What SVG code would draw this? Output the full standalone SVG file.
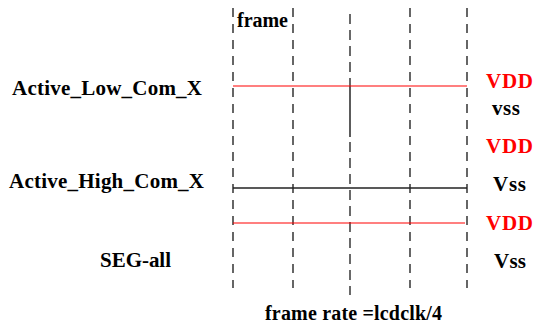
<svg xmlns="http://www.w3.org/2000/svg" width="536" height="335" viewBox="0 0 536 335">
<style>
.t{font-family:"Liberation Serif","Times New Roman",serif;font-weight:bold;fill:#000;font-size:21px}
.r{fill:#ff0000}
.grid{stroke:#000;stroke-width:1.2;stroke-dasharray:9 7;fill:none}
.mid{stroke:#444;stroke-width:1.6;stroke-dasharray:10 6;fill:none}
.red{stroke:#ff0000;stroke-width:1.2}
.blk{stroke:#222;stroke-width:1.3}
</style>
<rect width="536" height="335" fill="#fff"/>
<g id="connectors">
<line class="grid" x1="233" y1="8" x2="233" y2="288"/>
<line class="grid" x1="293" y1="8" x2="293" y2="288"/>
<line class="mid" x1="350" y1="14" x2="350" y2="86"/>
<line x1="350" y1="86" x2="350" y2="137" stroke="#333" stroke-width="1.6"/>
<line class="mid" x1="350" y1="142" x2="350" y2="295"/>
<line class="grid" x1="410" y1="8" x2="410" y2="288"/>
<line class="grid" x1="467" y1="8" x2="467" y2="288"/>
<line class="red" x1="233" y1="86" x2="467" y2="86"/>
<line class="blk" x1="233" y1="188" x2="467" y2="188"/>
<line class="red" x1="233" y1="223" x2="465" y2="223"/>
</g>
<g id="labels">
<text class="t" x="237" y="27" style="font-size:20px" textLength="51">frame</text>
<text class="t" x="12" y="95" textLength="190">Active_Low_Com_X</text>
<text class="t" x="9" y="188" textLength="195">Active_High_Com_X</text>
<text class="t" x="100" y="267" textLength="71">SEG-all</text>
<text class="t r" x="486" y="88" textLength="47">VDD</text>
<text class="t" x="492" y="115" textLength="28">vss</text>
<text class="t r" x="486" y="153" textLength="47">VDD</text>
<text class="t" x="493" y="191" textLength="33">Vss</text>
<text class="t r" x="486" y="230" textLength="47">VDD</text>
<text class="t" x="494" y="268" textLength="32">Vss</text>
<text class="t" x="265" y="320" style="font-size:20px" textLength="177">frame rate =lcdclk/4</text>
</g>
</svg>
